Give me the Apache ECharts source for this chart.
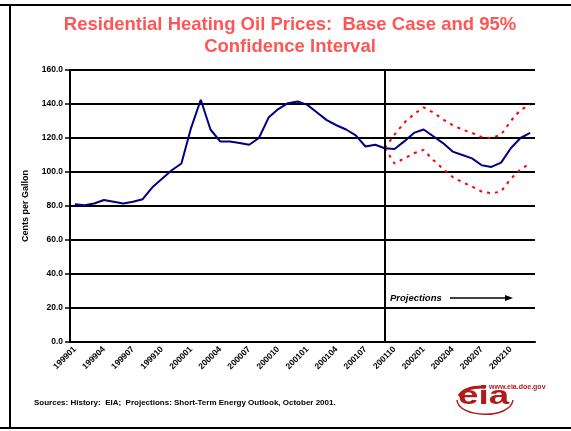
<!DOCTYPE html>
<html>
<head>
<meta charset="utf-8">
<script src="https://cdn.jsdelivr.net/npm/echarts@6/dist/echarts.min.js"></script>
<style>
	html,body{margin:0;padding:0;background:#fff;}
	#main{width:571px;height:431px;}
</style>
</head>
<body>
<div id="main"></div>
<script>
// months 199901 .. 200212
const months=[];
for(let y=1999;y<=2002;y++){
	for(let m=1;m<=12;m++){
		months.push(''+y+(m<10?'0':'')+m);
	}
}
const baseCase=[81,80.5,81.5,83.5,82.5,81.5,82.5,84,91,96,101,105,
	126,142.5,125,118,118,117,116,120,132,137,140.5,141.5,
	139.5,135,130.5,127.5,125,121.5,115,116,114,113.5,118,123,
	125,121,117,112,110,108,104,103,105.5,114,120,123];
const upper=[null,null,null,null,null,null,null,null,null,null,null,null,
	null,null,null,null,null,null,null,null,null,null,null,null,
	null,null,null,null,null,null,null,null,114,122,129,134,
	138,135,131,127.5,125,123,120.5,120,122,130,136.5,139.5];
const lower=[null,null,null,null,null,null,null,null,null,null,null,null,
	null,null,null,null,null,null,null,null,null,null,null,null,
	null,null,null,null,null,null,null,null,114,105,108,111,
	113,107,102,97,94,91.5,88.5,87.5,88.5,96,101.5,105];
const projectionStart='200109';

let chart=echarts.init(document.getElementById('main'));
let font='Liberation Sans, Arial, sans-serif';
let logoRed='#b01c1c';
let option={
	animation:false,
	title:{
		text:'Residential Heating Oil Prices:  Base Case and 95%\nConfidence Interval',
		left:285,
		top:9,
		textAlign:'center',
		textStyle:{color:'#ff5555',fontSize:18.5,fontWeight:'bold',fontFamily:font,lineHeight:22}
	},
	grid:{left:70,right:36,top:70,bottom:89},
	xAxis:{
		type:'category',
		data:months,
		boundaryGap:true,
		axisLine:{lineStyle:{color:'#000',width:2}},
		axisTick:{interval:0,length:3,lineStyle:{color:'#000',width:1.5}},
		axisLabel:{interval:2,rotate:45,fontSize:8.5,fontWeight:'bold',color:'#000',fontFamily:font,margin:6},
		splitLine:{show:false}
	},
	yAxis:{
		type:'value',
		min:0,max:160,interval:20,
		name:'Cents per Gallon',
		nameLocation:'middle',
		nameGap:40,
		nameTextStyle:{fontSize:9,fontWeight:'bold',color:'#000',fontFamily:font},
		axisLine:{show:true,lineStyle:{color:'#000',width:2}},
		axisTick:{show:true,length:5,lineStyle:{color:'#000',width:1.5}},
		axisLabel:{formatter:v=>v.toFixed(1),fontSize:8.5,fontWeight:'bold',color:'#000',fontFamily:font,margin:7},
		splitLine:{lineStyle:{color:'#000',width:2}}
	},
	series:[
		{
			name:'Base Case',
			type:'line',
			data:baseCase,
			symbol:'none',
			lineStyle:{color:'#000080',width:2},
			z:3,
			markLine:{
				silent:true,
				symbol:'none',
				label:{show:false},
				lineStyle:{color:'#000',width:2,type:'solid'},
				data:[{xAxis:projectionStart}]
			}
		},
		{
			name:'Upper',
			type:'line',
			data:upper,
			symbol:'none',
			lineStyle:{color:'#ff0000',width:2,type:[3,5]}
		},
		{
			name:'Lower',
			type:'line',
			data:lower,
			symbol:'none',
			lineStyle:{color:'#ff0000',width:2,type:[3,5]}
		}
	],
	graphic:[
		{type:'line',shape:{x1:0,y1:5,x2:571,y2:5},style:{stroke:'#000',lineWidth:2}},
		{type:'line',shape:{x1:10,y1:5,x2:10,y2:428},style:{stroke:'#000',lineWidth:2}},
		{type:'line',shape:{x1:0,y1:428,x2:571,y2:428},style:{stroke:'#000',lineWidth:2}},
		{type:'text',left:390,top:293,style:{text:'Projections',fontSize:9.5,fontWeight:'bold',fontStyle:'italic',fill:'#000',fontFamily:font}},
		{type:'line',shape:{x1:450,y1:298,x2:508,y2:298},style:{stroke:'#000',lineWidth:1.5}},
		{type:'polygon',shape:{points:[[513,298],[505,295],[505,301]]},style:{fill:'#000'}},
		{type:'text',left:34,top:399,style:{text:'Sources: History:  EIA;  Projections: Short-Term Energy Outlook, October 2001.',fontSize:8,fontWeight:'bold',fill:'#000',fontFamily:font}},
		// eia logo
		{type:'text',left:489,top:384,style:{text:'www.eia.doe.gov',fontSize:7,fontWeight:'bold',fill:logoRed,fontFamily:font}},
		{type:'text',x:458,y:410,scaleX:1.75,scaleY:1.2,style:{text:'eia',fontSize:21,fontWeight:'bold',fill:logoRed,fontFamily:font,verticalAlign:'bottom'}},
		{type:'bezierCurve',shape:{x1:459,y1:396,cpx1:463,cpy1:389,cpx2:472,cpy2:387,x2:483,y2:387},style:{stroke:logoRed,lineWidth:3,fill:null}},
		{type:'circle',shape:{cx:484,cy:387,r:2},style:{fill:logoRed}},
		{type:'bezierCurve',shape:{x1:457,y1:400,cpx1:458,cpy1:418,cpx2:510,cpy2:420,x2:513,y2:400},style:{stroke:logoRed,lineWidth:1.5,fill:null}}
	]
};
chart.setOption(option);
</script>
</body>
</html>
